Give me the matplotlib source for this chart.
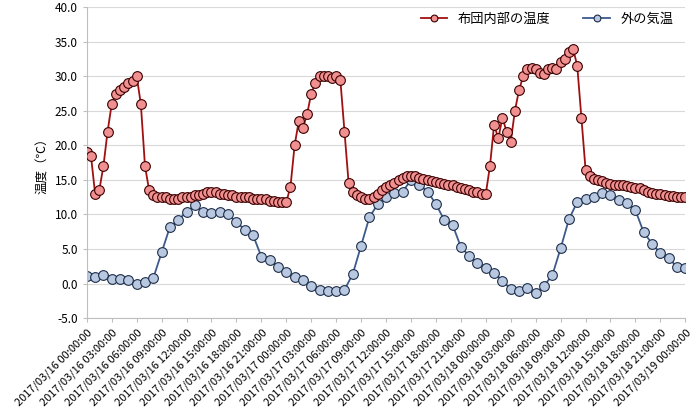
import numpy as np
import pandas as pd
import matplotlib
matplotlib.use('Agg')
import matplotlib.pyplot as plt

plt.rcParams['font.family'] = ['Noto Sans CJK JP', 'DejaVu Sans']

# 布団内部の温度 (30分ごと, 2017/03/16 00:00 から)
futon = [
    19.0, 18.5, 13.0, 13.5, 17.0, 22.0, 26.0, 27.5, 28.0, 28.5, 29.0, 29.3,
    30.0, 26.0, 17.0, 13.5, 12.8, 12.5, 12.5, 12.5, 12.3, 12.3, 12.3, 12.5,
    12.5, 12.5, 12.8, 12.8, 13.0, 13.3, 13.3, 13.3, 13.0, 13.0, 12.8, 12.8,
    12.5, 12.5, 12.5, 12.5, 12.3, 12.3, 12.2, 12.2, 12.0, 12.0, 11.8, 11.8,
    11.8, 14.0, 20.0, 23.5, 22.5, 24.5, 27.5, 29.0, 30.0, 30.0, 30.0, 29.8,
    30.0, 29.5, 22.0, 14.5, 13.3, 12.8, 12.5, 12.3, 12.2, 12.5, 13.0, 13.5,
    14.0, 14.3, 14.6, 15.0, 15.3, 15.5, 15.5, 15.5, 15.3, 15.2, 15.0, 14.8,
    14.7, 14.5, 14.4, 14.3, 14.2, 14.0, 13.8, 13.7, 13.5, 13.3, 13.2, 13.0,
    13.0, 17.0, 23.0, 21.0, 24.0, 22.0, 20.5, 25.0, 28.0, 30.0, 31.0, 31.2,
    31.0, 30.5, 30.3, 31.0, 31.2, 31.0, 32.0, 32.5, 33.5, 34.0, 31.5, 24.0,
    16.5, 15.5, 15.2, 15.0, 14.8, 14.5, 14.4, 14.3, 14.3, 14.2, 14.1, 14.0,
    13.9, 13.8, 13.5, 13.3, 13.1, 13.0, 12.9, 12.8, 12.7, 12.7, 12.6, 12.6,
    12.6,
]

# 外の気温 (1時間ごと)
outside = [
    1.1, 1.0, 1.3, 0.7, 0.6, 0.5, 0.0, 0.3, 0.8, 4.5, 8.2, 9.2,
    10.4, 11.3, 10.4, 10.2, 10.4, 10.0, 8.9, 7.8, 7.0, 3.9, 3.4, 2.4,
    1.7, 1.0, 0.5, -0.3, -0.9, -1.0, -1.0, -0.9, 1.4, 5.5, 9.6, 11.5,
    12.5, 13.1, 13.3, 15.0, 14.3, 13.3, 11.5, 9.2, 8.5, 5.3, 4.0, 3.0,
    2.3, 1.6, 0.4, -0.8, -1.0, -0.7, -1.4, -0.3, 1.2, 5.1, 9.3, 11.8,
    12.2, 12.5, 13.1, 12.8, 12.1, 11.7, 10.6, 7.4, 5.8, 4.4, 3.7, 2.4,
    2.2,
]

start = pd.Timestamp('2017-03-16 00:00:00')
futon_x = np.arange(len(futon)) * 0.5
outside_x = np.arange(len(outside)) * 1.0
tick_hours = np.arange(0, 73, 3)
tick_labels = [(start + pd.Timedelta(hours=int(h))).strftime('%Y/%m/%d %H:%M:%S') for h in tick_hours]

fig = plt.figure(figsize=(7, 4.17), dpi=100)
ax = fig.add_axes([0.124, 0.237, 0.855, 0.746])

ax.plot(futon_x, futon, color='#a01010', lw=1.3, marker='o', ms=7,
        mfc='#f09090', mec='#3a0000', mew=0.8, label='布団内部の温度', zorder=3)
ax.plot(outside_x, outside, color='#3c5a8c', lw=1.3, marker='o', ms=7,
        mfc='#b8c8e0', mec='#1e2e4a', mew=0.8, label='外の気温', zorder=2)

ax.set_xlim(0, 72)
ax.set_ylim(-5, 40)
ax.set_yticks(np.arange(-5, 41, 5))
ax.set_yticklabels([f'{v:.1f}' for v in np.arange(-5, 41, 5)], fontsize=8.5)
ax.set_xticks(tick_hours)
ax.set_xticklabels(tick_labels, rotation=45, ha='right', rotation_mode='anchor', fontsize=8)
ax.set_ylabel('温度（℃）', fontsize=9)
ax.grid(axis='y', color='#d9d9d9', lw=0.8)
ax.set_axisbelow(True)
for s in ['top', 'right']:
    ax.spines[s].set_visible(False)
ax.spines['left'].set_color('#bfbfbf')
ax.spines['bottom'].set_color('#bfbfbf')
ax.tick_params(length=3, color='#bfbfbf')

ax.legend(loc='upper right', bbox_to_anchor=(1.0, 1.02), ncol=2, frameon=False,
          fontsize=9.5, markerscale=0.7, handlelength=2, columnspacing=2.5)

fig.savefig('out.png', dpi=100)
